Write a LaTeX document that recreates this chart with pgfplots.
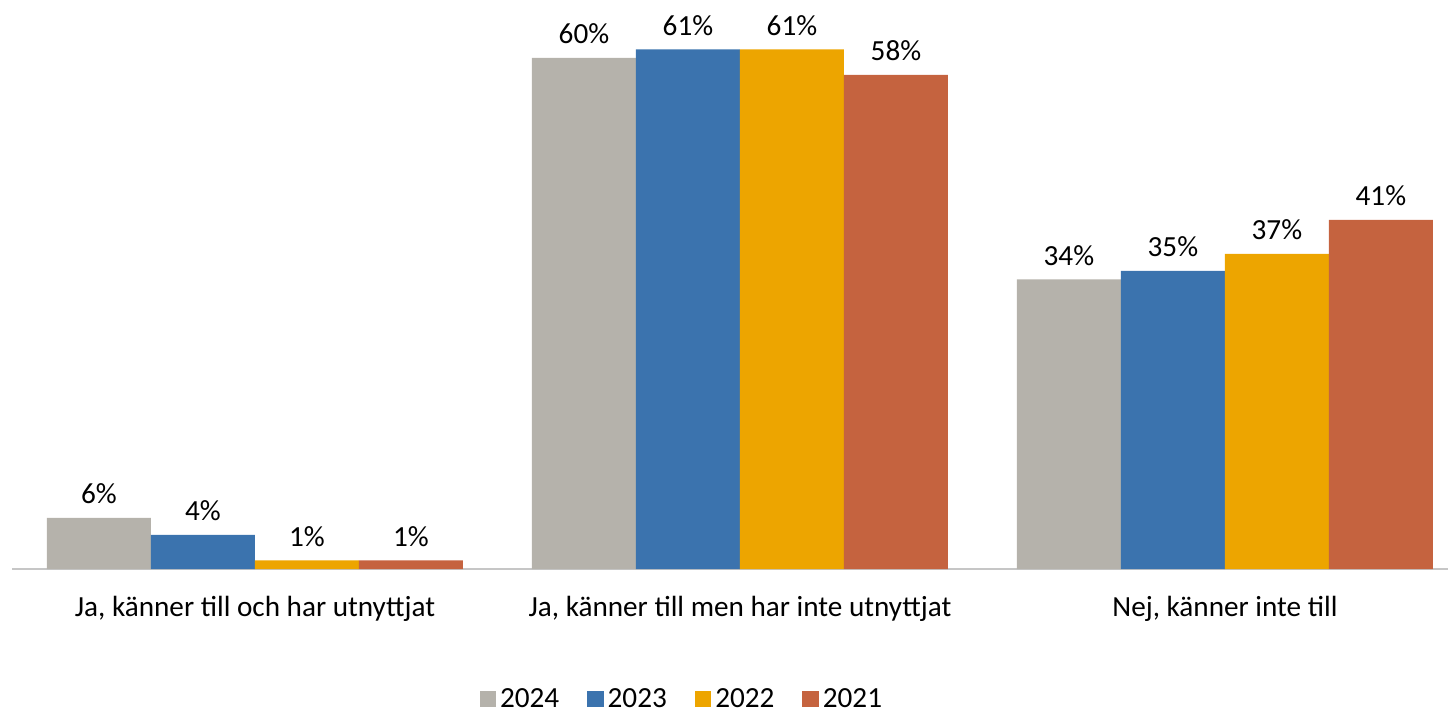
\documentclass[border=0pt]{standalone}
\usepackage{fontspec}
\setmainfont{Carlito}
\usepackage{pgfplots}
\pgfplotsset{compat=1.18}
\definecolor{c24}{HTML}{B5B2AB}
\definecolor{c23}{HTML}{3B73AE}
\definecolor{c22}{HTML}{EDA500}
\definecolor{c21}{HTML}{C5633F}
\begin{document}
\fontsize{14.6}{17}\selectfont
\begin{tikzpicture}
\useasboundingbox (-6.25pt,-72pt) rectangle (717.75pt,284.5pt);
\begin{axis}[
  scale only axis, width=717.75pt, height=284.5pt,
  xmin=-0.5, xmax=2.46, ymin=0, ymax=66.8,
  ybar=0pt, bar width=52pt,
  axis x line*=bottom, axis y line=none,
  x axis line style={draw=gray!45, line width=0.8pt},
  xtick={0,1,2},
  xticklabels={{Ja, känner till och har utnyttjat},{Ja, känner till men har inte utnyttjat},{Nej, känner inte till}},
  major tick length=0pt, xtick style={draw=none},
  xticklabel style={yshift=-8.5pt},
  ytick=\empty,
  clip=false,
  nodes near coords={\pgfmathprintnumber{\pgfplotspointmeta}\%},
  /pgf/number format/assume math mode=true,
  every node near coord/.append style={yshift=2pt, text=black},
  legend style={at={(0.467,-0.23)}, anchor=center, legend columns=-1, draw=none,
    /tikz/every even column/.append style={column sep=12pt}},
  legend image code/.code={\fill[#1] (0pt,-3.8pt) rectangle (8.2pt,4.2pt);},
]
\addplot[fill=c24, draw=none] coordinates {(0,6) (1,60) (2,34)};
\addplot[fill=c23, draw=none] coordinates {(0,4) (1,61) (2,35)};
\addplot[fill=c22, draw=none] coordinates {(0,1) (1,61) (2,37)};
\addplot[fill=c21, draw=none] coordinates {(0,1) (1,58) (2,41)};
\legend{2024,2023,2022,2021}
\end{axis}
\end{tikzpicture}
\end{document}
